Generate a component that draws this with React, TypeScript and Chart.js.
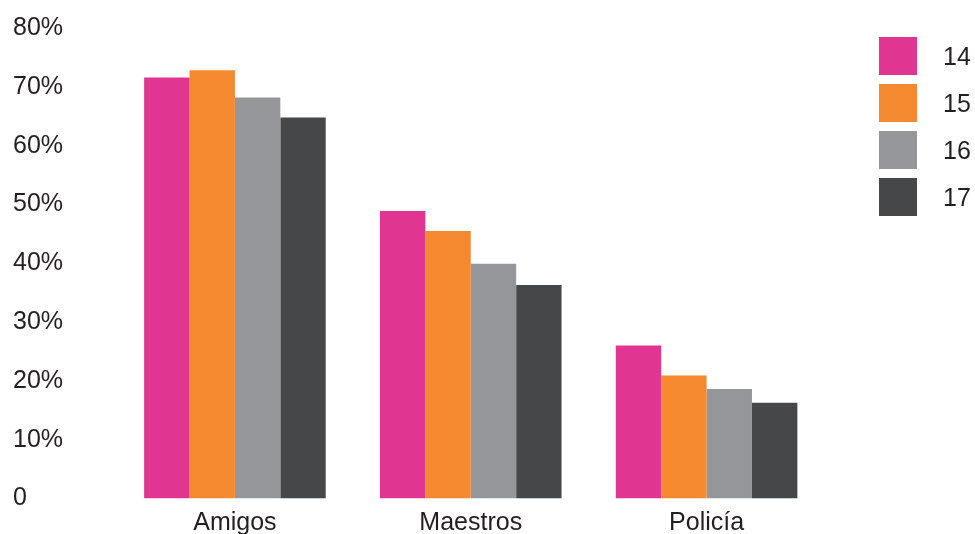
import React, { useEffect, useRef } from "react";
import { Chart, registerables } from "chart.js";

Chart.register(...registerables);

const categories = ["Amigos", "Maestros", "Policía"];
const seriesLabels = ["14", "15", "16", "17"];
const values14 = [71.6, 48.9, 26.0];
const values15 = [72.8, 45.5, 20.9];
const values16 = [68.2, 39.9, 18.6];
const values17 = [64.8, 36.3, 16.3];
const colors = ["#E03692", "#F4892F", "#959699", "#464749"];
const yTicks = [0, 10, 20, 30, 40, 50, 60, 70, 80];

const FONT = "'Liberation Sans', Arial, sans-serif";
const TEXT = "#231f20";

export default function App() {
  const ref = useRef<HTMLCanvasElement | null>(null);

  useEffect(() => {
    if (!ref.current) return;
    const series = [values14, values15, values16, values17];
    const chart = new Chart(ref.current, {
      type: "bar",
      data: {
        labels: categories,
        datasets: series.map((d, i) => ({
          label: seriesLabels[i],
          data: d,
          backgroundColor: colors[i],
          borderWidth: 0,
          barPercentage: 1,
          categoryPercentage: 0.77,
        })),
      },
      options: {
        animation: false,
        responsive: false,
        maintainAspectRatio: false,
        layout: { padding: { left: 13, right: 150.5, top: 28, bottom: 0 } },
        plugins: { legend: { display: false }, tooltip: { enabled: false } },
        scales: {
          x: {
            grid: { display: false, drawTicks: false },
            border: { display: false },
            ticks: {
              color: TEXT,
              font: { family: FONT, size: 25 },
              padding: 10,
            },
            afterFit: (s: any) => {
              s.height = 35.5;
            },
          },
          y: {
            min: 0,
            max: 80,
            afterBuildTicks: (s: any) => {
              s.ticks = yTicks.map((v) => ({ value: v }));
            },
            grid: { display: false, drawTicks: false },
            border: { display: false },
            ticks: {
              color: TEXT,
              crossAlign: "far",
              font: { family: FONT, size: 25 },
              callback: (v: any) => (Number(v) === 0 ? "0" : `${v}%`),
            },
            afterFit: (s: any) => {
              s.width = 104;
            },
          },
        },
      },
    });
    return () => chart.destroy();
  }, []);

  return (
    <div style={{ position: "absolute", left: 0, top: 0, width: 975, height: 534, background: "#fff", overflow: "hidden" }}>
      <canvas ref={ref} width={975} height={534} style={{ display: "block" }} />
      {seriesLabels.map((l, i) => (
        <div
          key={l}
          style={{
            position: "absolute",
            left: 879,
            top: 37 + i * 47,
            height: 38,
            display: "flex",
            alignItems: "center",
            fontFamily: FONT,
            fontSize: 25,
            color: TEXT,
            whiteSpace: "nowrap",
          }}
        >
          <span style={{ display: "inline-block", width: 38, height: 38, background: colors[i] }} />
          <span style={{ marginLeft: 26 }}>{l}</span>
        </div>
      ))}
    </div>
  );
}
